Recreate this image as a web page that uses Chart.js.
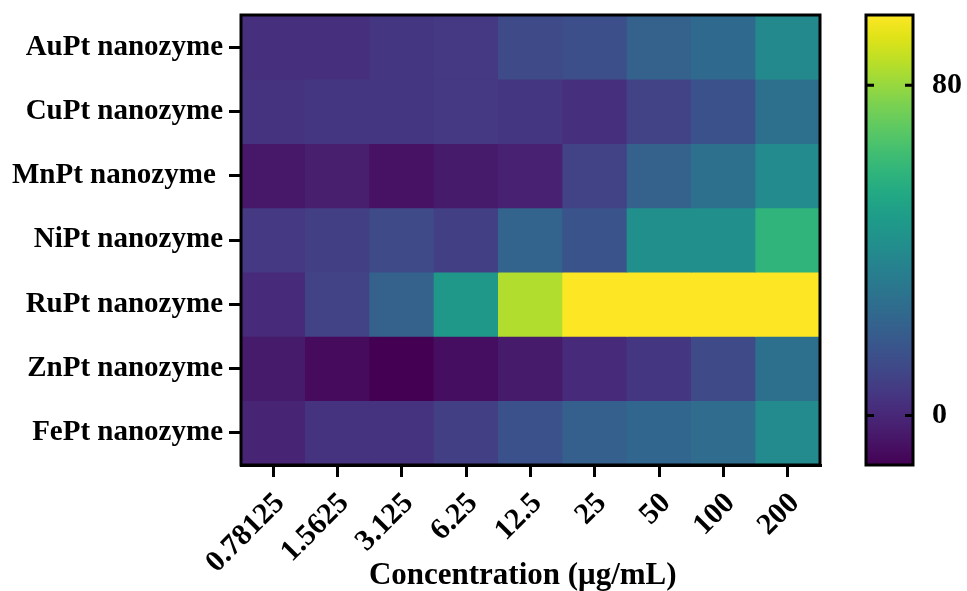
<!DOCTYPE html>
<html>
<head>
<meta charset="utf-8">
<script src="https://cdn.jsdelivr.net/npm/chart.js@4.4.0/dist/chart.umd.min.js"></script>
<style>
    html, body { margin: 0; padding: 0; background: #fff; }
    #wrap { position: relative; width: 967px; height: 591px; overflow: hidden; }
    #heat { position: absolute; left: 0; top: 0; }
    #bar { position: absolute; left: 840px; top: 0; }
</style>
</head>
<body>
<div id="wrap">
    <canvas id="heat" width="850" height="591"></canvas>
    <canvas id="bar" width="127" height="591"></canvas>
</div>
<script>
// Concentrations (x) and nanozymes (y, top to bottom)
const concentrations = ['0.78125', '1.5625', '3.125', '6.25', '12.5', '25', '50', '100', '200'];
const nanozymes = ['AuPt nanozyme', 'CuPt nanozyme', 'MnPt nanozyme ', 'NiPt nanozyme', 'RuPt nanozyme', 'ZnPt nanozyme', 'FePt nanozyme'];

// Cell values
const auPt = [3, 3, 5, 6, 12, 14, 22, 25, 39];
const cuPt = [4, 5, 5, 6, 5, 3, 9, 15, 28];
const mnPt = [-5, -3, -7, -4, -2, 9, 22, 28, 40];
const niPt = [6, 8, 12, 8, 23, 16, 42, 42, 59];
const ruPt = [1, 9, 22, 46, 84, 100, 100, 100, 100];
const znPt = [-4, -9, -12, -8, -4, 1, 5, 12, 28];
const fePt = [-1, 4, 4, 8, 15, 21, 24, 26, 40];
const values = [auPt, cuPt, mnPt, niPt, ruPt, znPt, fePt];

// Colour bar
const scaleMin = -12;
const scaleMax = 97;
const scaleTicks = [0, 80];

const FONT = '"Liberation Serif", "Times New Roman", serif';

const viridis = ['#440154', '#471365', '#482475', '#463480', '#414487', '#3b528b', '#355f8d',
    '#2f6c8e', '#2a788e', '#25848e', '#21918c', '#1e9c89', '#22a884', '#2fb47c', '#44bf70',
    '#5ec962', '#7ad151', '#9bd93c', '#bddf26', '#dfe318', '#fde725'];

function hexToRgb(h) {
    return [parseInt(h.slice(1, 3), 16), parseInt(h.slice(3, 5), 16), parseInt(h.slice(5, 7), 16)];
}

function colorFor(v) {
    let t = (v - scaleMin) / (scaleMax - scaleMin);
    t = Math.max(0, Math.min(1, t));
    const pos = t * (viridis.length - 1);
    const i = Math.min(Math.floor(pos), viridis.length - 2);
    const f = pos - i;
    const a = hexToRgb(viridis[i]);
    const b = hexToRgb(viridis[i + 1]);
    const c = a.map((x, k) => Math.round(x + (b[k] - x) * f));
    return `rgb(${c[0]}, ${c[1]}, ${c[2]})`;
}

// thick black box round the plot area
const framePlugin = {
    id: 'frame',
    afterDraw(chart) {
        const a = chart.chartArea;
        const ctx = chart.ctx;
        ctx.save();
        ctx.strokeStyle = '#000';
        ctx.lineWidth = 3;
        ctx.strokeRect(a.left, a.top, a.right - a.left, a.bottom - a.top);
        ctx.restore();
    }
};

new Chart(document.getElementById('heat'), {
    type: 'bar',
    data: {
        labels: concentrations,
        datasets: nanozymes.map((name, i) => ({
            label: name,
            data: concentrations.map(() => [i - 0.5, i + 0.5]),
            backgroundColor: values[i].map(colorFor),
            grouped: false,
            barPercentage: 1,
            categoryPercentage: 1,
            borderWidth: 0
        }))
    },
    options: {
        responsive: false,
        animation: false,
        layout: { padding: { top: 15, right: 30, left: 0, bottom: 0 } },
        plugins: { legend: { display: false }, tooltip: { enabled: false } },
        scales: {
            x: {
                type: 'category',
                offset: true,
                afterFit: (s) => { s.height = 126; s.paddingLeft = 0; s.paddingRight = 0; },
                grid: { offset: false, drawOnChartArea: false, tickLength: 12, lineWidth: 3, color: '#000' },
                border: { display: true, width: 3, color: '#000' },
                ticks: {
                    color: '#000',
                    minRotation: 45,
                    maxRotation: 45,
                    padding: 9,
                    labelOffset: 7,
                    font: { family: FONT, weight: 'bold', size: 30 }
                },
                title: {
                    display: true,
                    text: 'Concentration (μg/mL)  ',
                    color: '#000',
                    padding: { top: 0, bottom: -4 },
                    font: { family: FONT, weight: 'bold', size: 31 }
                }
            },
            y: {
                type: 'linear',
                reverse: true,
                min: -0.5,
                max: 6.5,
                afterFit: (s) => { s.width = 241; s.paddingTop = 0; s.paddingBottom = 0; },
                afterBuildTicks: (s) => { s.ticks = nanozymes.map((_, i) => ({ value: i })); },
                grid: { drawOnChartArea: false, tickLength: 12, lineWidth: 3, color: '#000' },
                border: { display: true, width: 3, color: '#000' },
                ticks: {
                    color: '#000',
                    padding: 6,
                    font: { family: FONT, weight: 'bold', size: 29 },
                    callback: (v) => nanozymes[v]
                }
            }
        }
    },
    plugins: [framePlugin]
});

// short inward ticks on both sides of the colour bar
const barTicksPlugin = {
    id: 'barTicks',
    afterDraw(chart) {
        const a = chart.chartArea;
        const y = chart.scales.y;
        const ctx = chart.ctx;
        ctx.save();
        ctx.strokeStyle = '#000';
        ctx.lineWidth = 3;
        scaleTicks.forEach(v => {
            const py = y.getPixelForValue(v);
            ctx.beginPath();
            ctx.moveTo(a.left, py); ctx.lineTo(a.left + 8, py);
            ctx.moveTo(a.right - 8, py); ctx.lineTo(a.right, py);
            ctx.stroke();
        });
        ctx.restore();
    }
};

new Chart(document.getElementById('bar'), {
    type: 'bar',
    data: {
        labels: [''],
        datasets: [{
            data: [[scaleMin, scaleMax]],
            barPercentage: 1,
            categoryPercentage: 1,
            borderWidth: 0,
            backgroundColor: (c) => {
                const chart = c.chart;
                if (!chart.chartArea) return viridis[0];
                const y = chart.scales.y;
                const g = chart.ctx.createLinearGradient(0, y.getPixelForValue(scaleMin), 0, y.getPixelForValue(scaleMax));
                viridis.forEach((col, k) => g.addColorStop(k / (viridis.length - 1), col));
                return g;
            }
        }]
    },
    options: {
        responsive: false,
        animation: false,
        layout: { padding: { top: 15, right: 0, left: 26, bottom: 126 } },
        plugins: { legend: { display: false }, tooltip: { enabled: false } },
        scales: {
            x: { display: false },
            y: {
                position: 'right',
                min: scaleMin,
                max: scaleMax,
                afterFit: (s) => { s.width = 54; s.paddingTop = 0; s.paddingBottom = 0; },
                afterBuildTicks: (s) => { s.ticks = scaleTicks.map(v => ({ value: v })); },
                grid: { display: false },
                border: { display: false },
                ticks: {
                    color: '#000',
                    padding: 11,
                    font: { family: FONT, weight: 'bold', size: 30 }
                }
            }
        }
    },
    plugins: [framePlugin, barTicksPlugin]
});
</script>
</body>
</html>
